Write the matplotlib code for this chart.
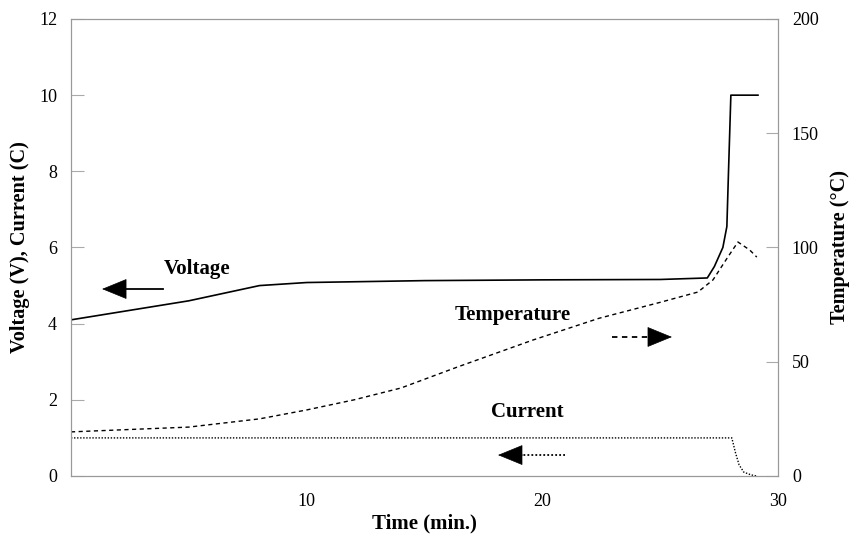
import matplotlib
matplotlib.use("Agg")
import matplotlib.pyplot as plt

plt.rcParams['font.family'] = ['Liberation Serif', 'DejaVu Serif']

# voltage (V) vs time (min)
t_volt = [0, 5, 8, 10, 15, 20, 25, 27.0, 27.3, 27.66, 27.83, 27.9, 28.0, 29.15]
volt = [4.1, 4.6, 5.0, 5.08, 5.13, 5.15, 5.16, 5.2, 5.5, 6.0, 6.55, 8.0, 10.0, 10.0]

# temperature (degC) vs time (min)
t_temp = [0, 5, 8, 10, 12, 14, 16.4, 19.6, 22.4, 25, 26.6, 27.24, 27.87, 28.3, 28.8, 29.1]
temp = [19.3, 21.4, 25, 28.9, 33.3, 38.5, 47.7, 59.5, 69, 76, 80.5, 85.8, 95.8, 102.4, 98.9, 95.8]

# current (C) vs time (min)
t_curr = [0, 28.04, 28.2, 28.35, 28.55, 28.85, 29.1]
curr = [1.0, 1.0, 0.6, 0.29, 0.1, 0.03, 0.0]

# text labels and arrows (time, left-axis value)
labels = ['Voltage', 'Temperature', 'Current']
label_xy = [(5.35, 5.43), (18.75, 4.23), (19.35, 1.68)]
arrow_tail = [(3.9, 4.91), (22.95, 3.65), (20.96, 0.55)]
arrow_tip = [(1.32, 4.91), (25.5, 3.65), (18.12, 0.55)]
arrow_ls = ['-', (0, (3, 2.5)), (0, (1, 1.2))]

fig = plt.figure(figsize=(8.5, 5.35), dpi=100)
ax = fig.add_axes([0.0835, 0.1103, 0.8318, 0.8542])
ax2 = ax.twinx()

ax.plot(t_volt, volt, color='black', lw=1.2)
ax2.plot(t_temp, temp, color='black', lw=1.0, ls=(0, (3, 2.5)))
ax.plot(t_curr, curr, color='black', lw=1.0, ls=(0, (1, 1.2)))

ax.set_xlim(0, 30)
ax.set_ylim(0, 12)
ax2.set_ylim(0, 200)
ax.set_xticks([10, 20, 30])
ax.set_yticks(range(0, 13, 2))
ax2.set_yticks(range(0, 201, 50))

for a in (ax, ax2):
    for s in a.spines.values():
        s.set_color('#999999')
        s.set_linewidth(0.8)
    a.tick_params(direction='in', length=9, color='#aaaaaa', labelsize=13)
ax.tick_params(axis='x', length=0, pad=12)
ax.tick_params(axis='y', pad=10)
ax2.tick_params(axis='y', pad=10)

ax.set_xlabel('Time (min.)', fontsize=15, fontweight='bold')
ax.xaxis.set_label_coords(0.5, -0.083)
ax.set_ylabel('Voltage (V), Current (C)', fontsize=14.6, fontweight='bold',
              ha='center', va='center')
ax.yaxis.set_label_coords(-0.072, 0.5)
ax2.set_ylabel('Temperature (\u00b0C)', fontsize=14.6, fontweight='bold',
               rotation=90, ha='center', va='center')
ax2.yaxis.set_label_coords(1.088, 0.5)

for lab, xy in zip(labels, label_xy):
    ax.text(xy[0], xy[1], lab, fontsize=15, fontweight='bold', ha='center', va='center')

for tail, tip, ls in zip(arrow_tail, arrow_tip, arrow_ls):
    base_x = tip[0] + (tail[0] - tip[0]) * 0.37
    ax.plot([tail[0], base_x], [tail[1], tip[1]], color='black', lw=1.3, ls=ls)
    ax.annotate('', xy=tip, xytext=(base_x, tip[1]),
                arrowprops=dict(arrowstyle='-|>,head_length=0.83,head_width=0.34',
                                mutation_scale=20, color='black', lw=0.5,
                                shrinkA=0, shrinkB=0))

fig.savefig('out.png', dpi=100)
